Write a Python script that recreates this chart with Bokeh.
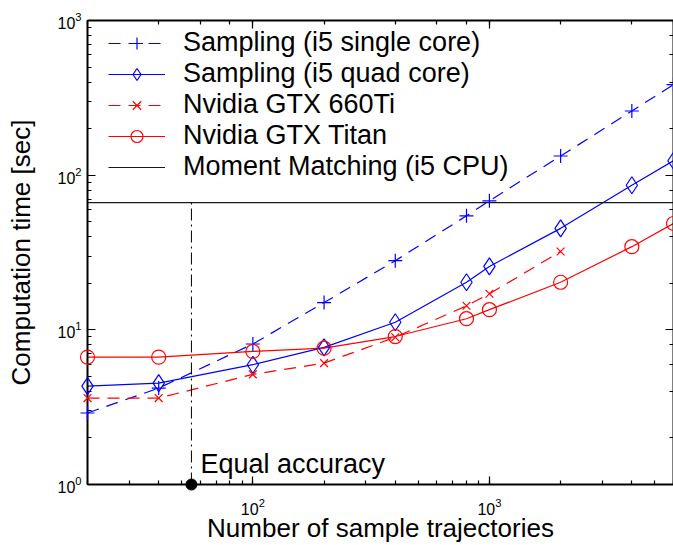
from bokeh.plotting import figure
from bokeh.models import (LogAxis, LogTicker, Range1d, Legend, LegendItem, Label,
                          ColumnDataSource, CustomJSTickFormatter)
from bokeh.embed import file_html
from bokeh.resources import INLINE

# Computation time [sec] against number of sample trajectories
samples = [20, 40, 100, 200, 400, 800, 1000, 2000, 4000, 6000]
t_single_core = [2.9, 4.2, 8.1, 15.0, 28.0, 54.6, 68.3, 133, 260, 385]
t_quad_core = [4.33, 4.52, 5.95, 7.7, 11.2, 20.3, 25.7, 45.3, 86.1, 124]
t_titan = [6.66, 6.66, 7.25, 7.61, 9.05, 11.8, 13.5, 20.3, 34.5, 48.7]

samples_660ti = [20, 40, 100, 200, 400, 800, 1000, 2000]
t_660ti = [3.62, 3.62, 5.15, 6.09, 8.96, 14.3, 17.1, 32.1]

moment_matching_time = 66.5
equal_accuracy_samples = 55

x_limits = (20, 6000)
y_limits = (1, 1000)

FONT = "Liberation Sans"
BLUE = "#0000ff"
RED = "#ff0000"

src_main = ColumnDataSource(dict(n=samples, single=t_single_core,
                                 quad=t_quad_core, titan=t_titan))
src_660 = ColumnDataSource(dict(n=samples_660ti, t=t_660ti))

p = figure(width=673, height=545, x_axis_type="log", y_axis_type="log",
           x_range=Range1d(*x_limits), y_range=Range1d(*y_limits),
           output_backend="svg", toolbar_location=None,
           min_border_left=87, min_border_right=0,
           min_border_top=20, min_border_bottom=40)
p.grid.visible = False
p.outline_line_color = None
p.background_fill_color = "white"
p.border_fill_color = "white"


def style_axis(ax):
    ax.axis_line_width = 2
    ax.axis_line_color = "black"
    ax.major_tick_in = 8
    ax.major_tick_out = 0
    ax.minor_tick_in = 4
    ax.minor_tick_out = 0
    ax.major_tick_line_width = 1.2
    ax.minor_tick_line_width = 1.2
    ax.major_tick_line_color = "black"
    ax.minor_tick_line_color = "black"
    ax.major_label_text_font = FONT
    ax.major_label_text_font_size = "16px"
    ax.major_label_text_color = "black"
    ax.axis_label_text_font = FONT
    ax.axis_label_text_font_size = "26px"
    ax.axis_label_text_font_style = "normal"
    ax.axis_label_text_color = "black"


p.xaxis.axis_label = "Number of sample trajectories"
p.yaxis.axis_label = "Computation time [sec]"
for ax in p.xaxis + p.yaxis:
    style_axis(ax)
p.xaxis.major_label_standoff = 13
p.xaxis.axis_label_standoff = -5
p.yaxis.major_label_standoff = 6
p.yaxis.axis_label_standoff = 18

# closed box: tick marks on the top and right edges as well
blank = CustomJSTickFormatter(code="return ''")
for side in ("above", "right"):
    extra = LogAxis(ticker=LogTicker(), formatter=blank)
    style_axis(extra)
    extra.major_label_standoff = 0
    extra.major_label_text_font_size = "0px"
    p.add_layout(extra, side)

# series (markers drawn unclipped so those on the frame edge stay whole)
l_single = p.line("n", "single", source=src_main, line_color=BLUE,
                  line_width=1.2, line_dash="12 8")
m_single = p.scatter("n", "single", source=src_main, marker="cross", size=14,
                     line_color=BLUE, line_width=1.2, level="overlay")

l_quad = p.line("n", "quad", source=src_main, line_color=BLUE, line_width=1.2)
m_quad = p.scatter("n", "quad", source=src_main, marker="diamond", size=17,
                   line_color=BLUE, fill_color=None, line_width=1.2,
                   level="overlay")

l_660 = p.line("n", "t", source=src_660, line_color=RED, line_width=1.2,
               line_dash="12 8")
m_660 = p.scatter("n", "t", source=src_660, marker="x", size=11,
                  line_color=RED, line_width=1.2, level="overlay")

l_titan = p.line("n", "titan", source=src_main, line_color=RED, line_width=1.2)
m_titan = p.scatter("n", "titan", source=src_main, marker="circle", size=14,
                    line_color=RED, fill_color=None, line_width=1.2,
                    level="overlay")

l_mm = p.line(x=list(x_limits), y=[moment_matching_time] * 2,
              line_color="#1a1a1a", line_width=1.2)

# equal accuracy marker
p.line(x=[equal_accuracy_samples] * 2, y=[y_limits[0], moment_matching_time],
       line_color="black", line_width=1, line_dash="12 4 2 4")
p.scatter(x=[equal_accuracy_samples], y=[y_limits[0]], marker="circle", size=11,
          color="black", level="overlay")
p.add_layout(Label(x=equal_accuracy_samples, y=y_limits[0], x_offset=9, y_offset=21,
                   text="Equal accuracy", text_font=FONT, text_font_size="27px",
                   text_baseline="alphabetic", text_color="black"))

legend = Legend(items=[
    LegendItem(label="Sampling (i5 single core)", renderers=[l_single, m_single]),
    LegendItem(label="Sampling (i5 quad core)", renderers=[l_quad, m_quad]),
    LegendItem(label="Nvidia GTX 660Ti", renderers=[l_660, m_660]),
    LegendItem(label="Nvidia GTX Titan", renderers=[l_titan, m_titan]),
    LegendItem(label="Moment Matching (i5 CPU)", renderers=[l_mm]),
], location=(21, 302), label_text_font=FONT, label_text_font_size="27px",
    label_text_color="black", glyph_width=57, glyph_height=30, label_height=30,
    label_standoff=18, spacing=0, padding=0, margin=0,
    border_line_color=None, background_fill_color=None)
p.add_layout(legend)

open("out.html", "w").write(file_html(p, INLINE))
